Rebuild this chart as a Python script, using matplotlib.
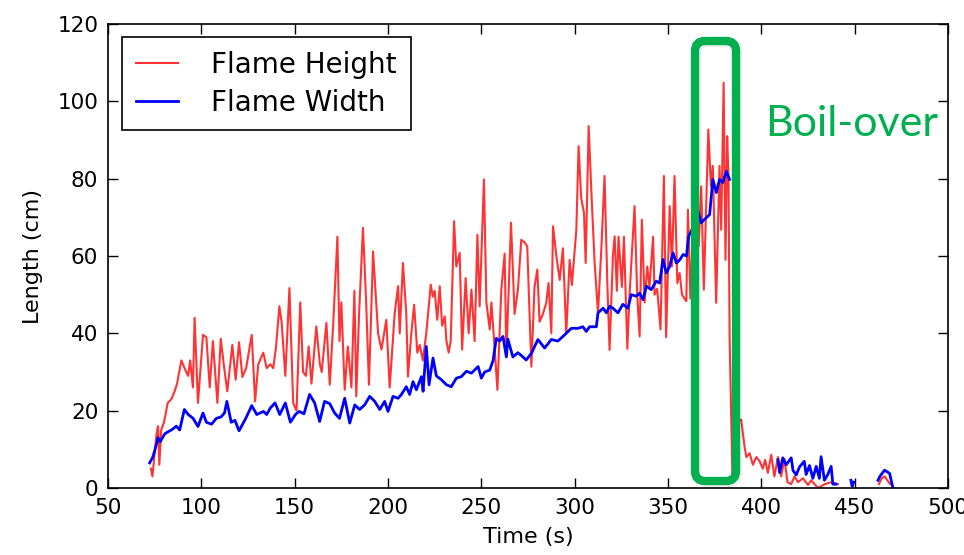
import numpy as np
import matplotlib
matplotlib.use("Agg")
import matplotlib.pyplot as plt
from matplotlib.patches import FancyBboxPatch

nan = np.nan

# Flame height (red)
t_height = [73.0, 73.8, 75, 76, 76.8, 77.5, 78.5, 80, 82, 84, 85.7, 87, 89.3, 91, 92.9, 94, 95.5, 96.4, 98.2,
            100.9, 102.7, 104.5, 106.2, 108.6, 110.4, 112, 113.9, 116.6, 118.4, 120.2, 122, 124, 127, 128.8,
            130.5, 133.2, 135, 137, 138.5, 140, 141.8, 143, 145, 147.2, 149.2, 151, 153, 154.5, 156, 157.5,
            159, 161.6, 163.5, 164.5, 167, 168.8, 170.6, 172.9, 174, 175, 176.8, 178.5, 180.4, 182, 183,
            184.5, 186.6, 188.3, 189.8, 192, 194.7, 196.5, 199.1, 200.9, 203.6, 205.4, 206.3, 208, 209.8,
            210.7, 212.5, 214, 215.7, 217, 218.7, 220.5, 222.9, 224, 225, 226.4, 227.7, 229, 230.4, 231.3,
            232.5, 233.6, 235.4, 236.6, 238.4, 239.7, 241.6, 243.2, 244.7, 246.4, 247.9, 249.1, 251.4,
            252.7, 254.5, 255.4, 257, 258.6, 260.7, 262.5, 263.4, 265.9, 267.8, 269.6, 271.4, 273.2, 274.6,
            276.8, 278.5, 280, 281.2, 283, 284.8, 286, 287.5, 288.4, 290.2, 292, 293.7, 295.5, 297.3, 298.5,
            300.9, 302.1, 303.5, 305, 305.9, 307.5, 309, 310.7, 312.5, 314.3, 316, 317.5, 318.7, 320.5,
            321.4, 322.6, 323.5, 325.3, 326.4, 328.2, 329.4, 332.1, 333.5, 334.8, 336, 337.5, 338.9, 340.1,
            342, 342.8, 344.2, 346, 347.8, 349, 350.9, 352.1, 353.5, 355, 356.2, 357.5, 359.8, 360.7, 362,
            363, 364.6, 365.5, 366.4, 367.8, 369.2, 371.6, 373, 374, 375.8, 377.6, 378.5, 379.8, 380.8,
            381.7, 382.4, 383, 384.5, 385.8, 387.4, 389.2, 391, 392, 393.7, 395.5, 397.3, 399, 400.8, 402,
            403.5, 405.3, 407, 408.9, 410.6, 412.4, 414, 416, 417.8, 419.6, 422.3, 425, 426.7, 430.4, 434,
            437.4, 441, 441.5, 448, 449, 449.5, 463, 464.5, 466, 467.5, 469]
height = [5, 3, 9, 14, 16, 6, 15, 17, 22, 23, 25, 27, 33, 31, 29, 33, 26, 44, 22,
          39.6, 39, 26, 38, 22, 38.6, 32, 25, 37, 28, 37.7, 28.7, 31, 39.6, 22.4,
          32, 35, 31, 32, 31, 36.4, 47, 43, 29, 51.7, 22, 20, 48, 30, 29, 36.6,
          27, 41.8, 32, 30, 42.7, 26.7, 42, 65, 38, 48, 25.4, 36.6, 26, 51, 23.7,
          45, 67.3, 48, 26.7, 61.2, 40, 35.8, 43.5, 26, 45.3, 52.2, 40, 58.2, 45,
          28.8, 40, 47.4, 35, 37, 33, 40, 52.6, 49.5, 51, 43.5, 52.2, 42, 44.4, 38,
          35, 38, 69, 57.3, 60.8, 35.8, 54.3, 40, 51.3, 38, 65.5, 47, 79.8,
          48, 41, 48, 37, 25.4, 51.3, 60.6, 34, 68.6, 45, 51.3, 64.2, 63.5, 62.5,
          31.4, 52, 56.5, 43, 45, 47.9, 53, 40, 67.7, 60, 53.8, 62, 40, 59, 52.5,
          66.8, 88.4, 75, 71.1, 58.2, 93.6, 76, 58.2, 45.3, 62, 80.7, 53, 35.7, 60,
          65.1, 51, 65, 52, 65, 36, 50, 72.9, 50, 39.2, 69.4, 48, 57.3, 52,
          65, 50, 51.5, 41, 80.7, 39, 72.9, 57.3, 80.7, 53, 55.6, 50, 48.3, 72, 49,
          62, 72, 70, 62.5, 78, 51.3, 92.7, 78, 83.3, 47.9, 83.3, 66.8, 104.8, 59,
          91, 80.7, 39, 3, 8, 16.8, 17.7, 10.7, 8, 9, 6, 8, 7, 5, 7.3,
          3.9, 8.6, 3, 8, 3, 7.5, 1.5, 1, 3, 1.5, 2.5, 0.8, 2, 0, 1,
          1.5, 1, nan, 1.5, 0.5, nan, 1, 2.5, 3, 2, 1]

# Flame width (blue)
t_width = [72.3, 74, 75, 76.8, 78, 80.4, 82, 84, 86.6, 88.4, 90.9, 93, 95.6, 98.2, 100.9, 102.7, 105.5, 108,
           110.6, 112.4, 113.7, 116, 118, 120.2, 123.8, 127, 129.7, 133.3, 135, 137, 139.5, 142, 145, 147.7,
           150.4, 152.4, 155, 158, 160.7, 163.4, 166, 168.8, 171.4, 174, 176.8, 179.5, 182.2, 184.8, 187.5,
           190.2, 192.9, 195.6, 198.2, 200, 202.7, 205.4, 207.2, 209.8, 211.6, 213.4, 215.2, 217.9, 218.8,
           220.5, 222, 224.1, 225.9, 228.6, 231.3, 233.9, 236.6, 239.3, 242, 244.7, 248.3, 250, 251.8,
           254.5, 256.3, 258, 259.8, 261.6, 263.4, 264.2, 266.9, 269.6, 272.3, 274, 276.8, 280.3, 283.9,
           287.5, 291, 294.6, 298.2, 301.8, 304.4, 306.2, 308, 311.6, 312.5, 315.2, 317, 318.7, 320.5,
           323.2, 325.8, 328.5, 330.3, 333, 334.8, 336.6, 338.4, 341, 343.7, 345.5, 347.3, 349.1, 350.9,
           352.7, 354.5, 356.3, 358.1, 359.9, 361, 363.5, 366, 367.8, 369.6, 372.3, 374, 375.9, 377.6,
           379.4, 381.2, 383, 395, 408.9, 409.8, 411.5, 413.3, 416, 417, 418.7, 420.5, 423, 424, 425.8,
           427.6, 429.4, 431.1, 432, 433.8, 435.6, 437.4, 438.3, 440, 444, 448, 448.6, 449.5, 455, 462.5,
           463.5, 466, 468.7, 470.5]
width = [6.5, 8, 9.6, 13, 12, 14, 14.5, 15, 16, 15, 20.3, 19, 18, 15.9, 19.4, 17, 16.5, 18,
         18.4, 19.4, 22.4, 17, 17.5, 14.8, 18, 21.3, 19, 19.8, 19, 20.7, 22, 19, 22, 17,
         19, 19.8, 19.2, 24.2, 22, 17.2, 22.4, 21.8, 19.4, 18, 23.2, 16.8, 21.5, 20.3, 21.5,
         23.7, 22.4, 20.3, 22.4, 19.8, 23.7, 23.2, 24.2, 26.2, 24.2, 27.5, 25.4, 28.8, 25,
         36.6, 26.7, 33.6, 29, 28, 26.7, 26.2, 28.4, 28.8, 30.2, 29.7, 31.4, 28.4, 30,
         30.5, 33, 38.7, 38, 39.2, 33.9, 38.5, 33.9, 35, 33.9, 33.1, 34.8, 38.4, 36.2,
         38.4, 38, 39.6, 41.3, 41.3, 41.7, 40.5, 41.7, 41.7, 45.3, 46.5, 45.3, 47, 46.5,
         45.3, 47.5, 46.5, 50, 49.6, 50.4, 48.7, 52.2, 51.3, 53.5, 53, 59.1, 55.6, 57.3,
         60.8, 58.2, 59, 60.4, 60, 65, 67.5, 71.6, 68.6, 69.5, 70.7, 79.8, 76.4, 79.8,
         79, 81.9, 79.8, nan, 7.3, 4, 7.8, 6, 7.8, 4.5, 3.4, 5.5, 6.9, 3.5, 5.8,
         2.5, 5.6, 2.5, 8.1, 2, 3.5, 5.6, 1, 1, nan, 2, 0.5, 1.5, nan, 2,
         3, 4.6, 3.8, 0]

x_ticks = [50, 100, 150, 200, 250, 300, 350, 400, 450, 500]
y_ticks = [0, 20, 40, 60, 80, 100, 120]

W, H = 964, 555
fig = plt.figure(figsize=(W / 100, H / 100), dpi=100)
fig.patch.set_facecolor("white")
ax = fig.add_axes([108 / W, 1 - 488 / H, (948 - 108) / W, (488 - 24) / H])

ax.plot(t_height, height, color="red", alpha=0.8, lw=1.5, label="Flame Height")
ax.plot(t_width, width, color="blue", lw=2.0, label="Flame Width")

ax.set_xlim(50, 500)
ax.set_ylim(0, 120)
ax.set_xticks(x_ticks)
ax.set_yticks(y_ticks)
ax.tick_params(direction="in", length=7, width=1, top=True, right=True, labelsize=15.5, pad=7)
for s in ax.spines.values():
    s.set_linewidth(1.2)
ax.set_xlabel("Time (s)", fontsize=16, labelpad=7)
ax.set_ylabel("Length (cm)", fontsize=16, labelpad=10)

leg = ax.legend(loc="upper left", bbox_to_anchor=(0.017, 0.972), fontsize=20, fancybox=False,
                edgecolor="black", framealpha=1, handlelength=1.5, handletextpad=1.2,
                labelspacing=0.35, borderpad=0.5, borderaxespad=0)
leg.get_frame().set_linewidth(1.2)

# green boil-over annotation box (pixel coordinates)
shadow = FancyBboxPatch((697, H - 483), 41, 440, boxstyle="round,pad=0,rounding_size=10",
                        transform=None, fill=False, edgecolor="#000000", alpha=0.07, lw=6,
                        zorder=9)
fig.patches.append(shadow)
box = FancyBboxPatch((695, H - 481), 41, 440, boxstyle="round,pad=0,rounding_size=10",
                     transform=None, fill=False, edgecolor="#00B050", lw=6, zorder=10)
fig.patches.append(box)

fig.text(852 / W, 1 - 136 / H, "Boil-over", color="#00B050", fontsize=31, family="Lato",
         ha="center", va="baseline")

fig.savefig("out.png", dpi=100)
